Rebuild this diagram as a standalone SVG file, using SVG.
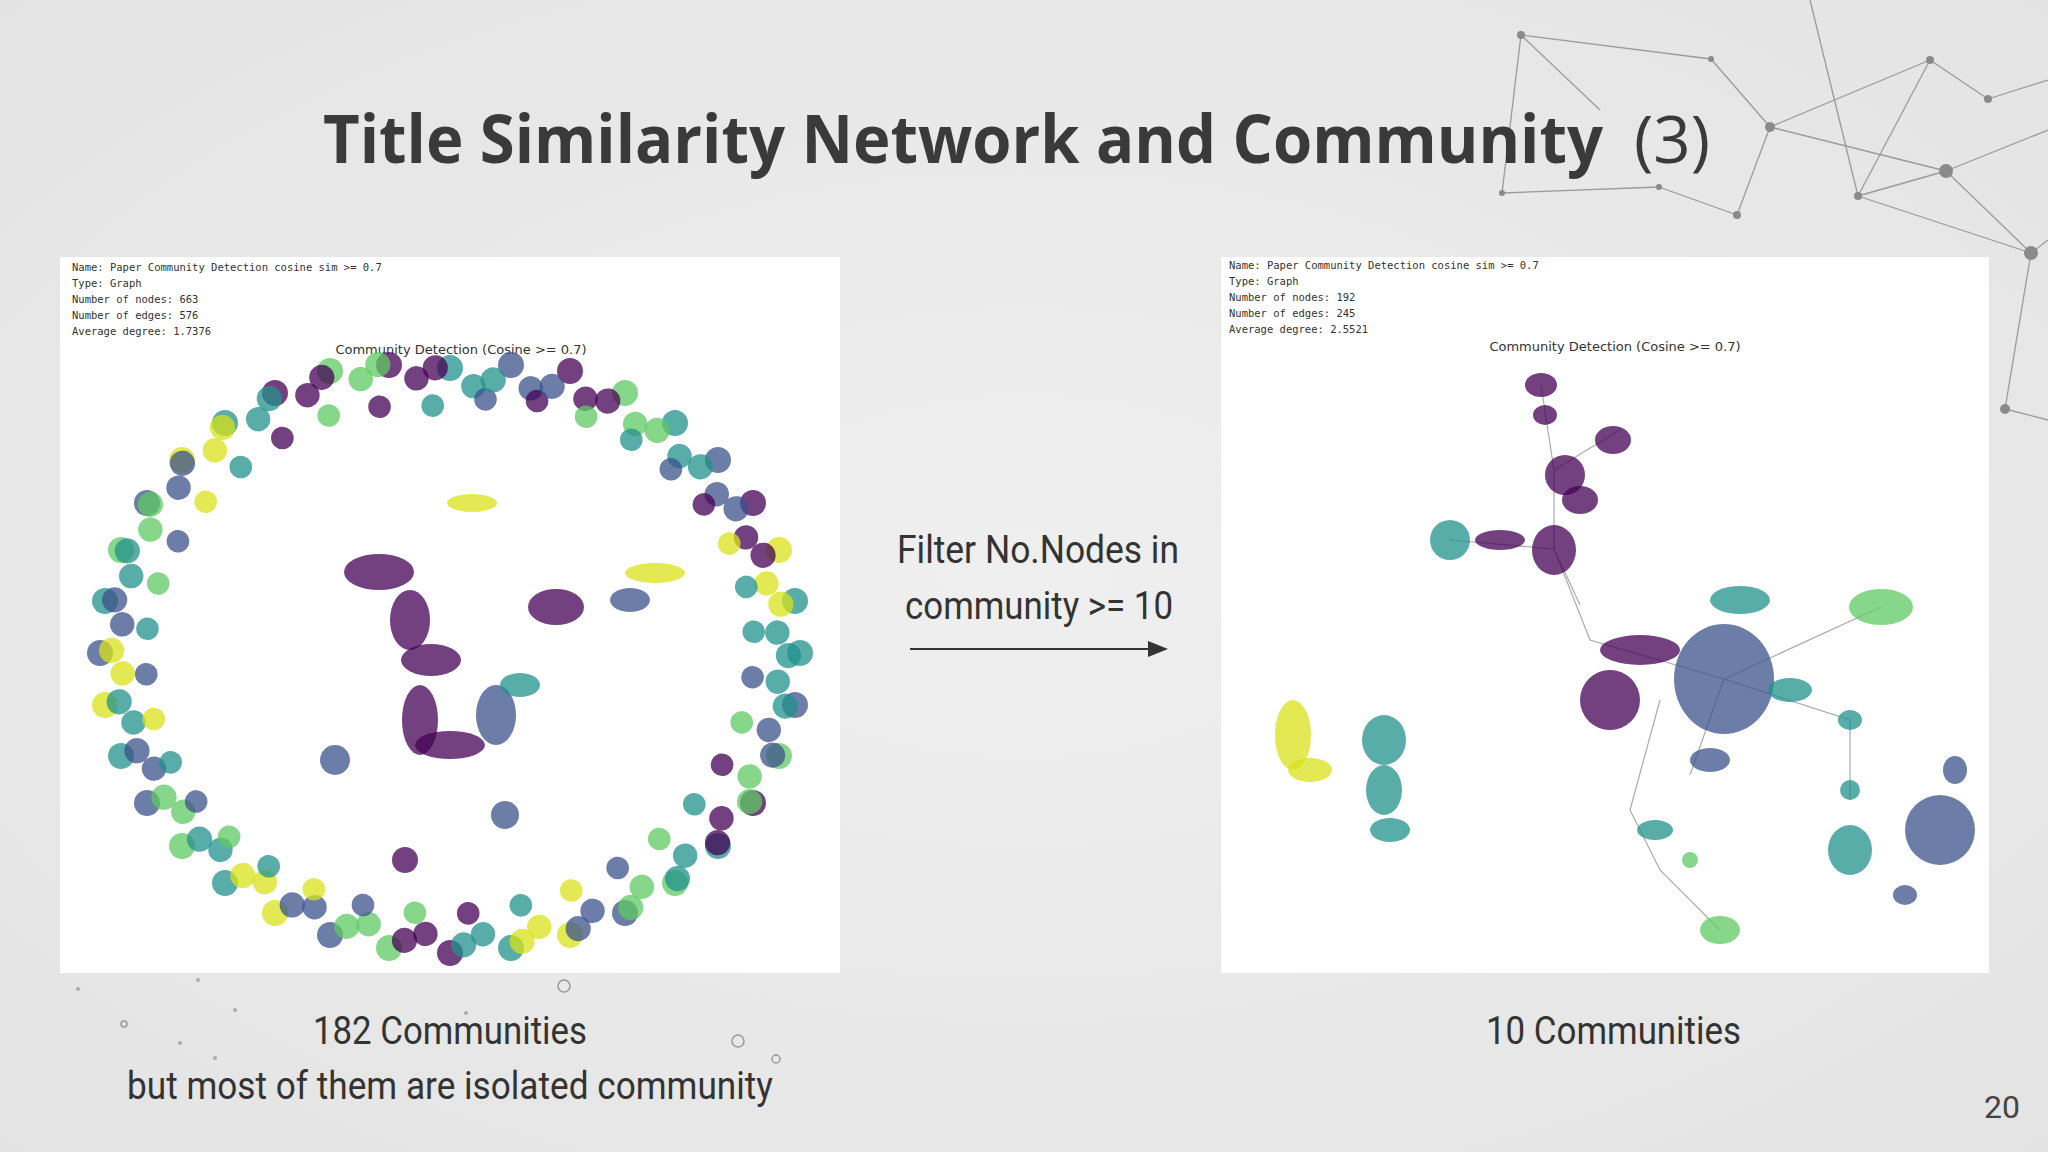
<svg xmlns="http://www.w3.org/2000/svg" xmlns:xlink="http://www.w3.org/1999/xlink" width="2048" height="1152" viewBox="0 0 2048 1152">
<defs>
<radialGradient id="bg" cx="0.5" cy="0.5" r="0.8"><stop offset="0" stop-color="#efefef"/><stop offset="1" stop-color="#e2e2e2"/></radialGradient>
<marker id="ah" markerWidth="10" markerHeight="8" refX="9" refY="4" orient="auto"><path d="M0,0 L10,4 L0,8 z" fill="#333"/></marker>
<style>
.mono{font-family:"DejaVu Sans Mono","Liberation Mono",monospace;font-size:10.5px;fill:#333}
.pt{font-family:"DejaVu Sans","Liberation Sans",sans-serif;font-size:13px;fill:#333}
.cap{font-family:Roboto,"Liberation Sans",sans-serif;font-size:38px;fill:#333}
.deco line{stroke:#9a9a9a;stroke-width:1.3}
.deco circle{fill:#8a8a8a}
.p{fill:#440154;fill-opacity:.75}.b{fill:#3b528b;fill-opacity:.75}.t{fill:#21918c;fill-opacity:.75}.g{fill:#5ec962;fill-opacity:.75}.y{fill:#d8e219;fill-opacity:.75}
.e{stroke:#aaa;stroke-width:1.2;fill:none}
</style>
</defs>
<rect width="2048" height="1152" fill="url(#bg)"/>
<g class="deco">
<line x1="1521" y1="35" x2="1711" y2="59"/><line x1="1711" y1="59" x2="1770" y2="127"/><line x1="1770" y1="127" x2="1930" y2="60"/><line x1="1770" y1="127" x2="1946" y2="171"/><line x1="1930" y1="60" x2="1988" y2="99"/><line x1="1946" y1="171" x2="2031" y2="253"/><line x1="1946" y1="171" x2="1858" y2="196"/><line x1="1858" y1="196" x2="2031" y2="253"/><line x1="2031" y1="253" x2="2005" y2="409"/><line x1="1770" y1="127" x2="1737" y2="215"/><line x1="1502" y1="193" x2="1659" y2="187"/><line x1="1659" y1="187" x2="1737" y2="215"/><line x1="1521" y1="35" x2="1502" y2="193"/><line x1="1858" y1="196" x2="1930" y2="60"/><line x1="1988" y1="99" x2="2048" y2="80"/><line x1="2031" y1="253" x2="2048" y2="240"/><line x1="1858" y1="196" x2="1810" y2="0"/><line x1="1946" y1="171" x2="2048" y2="130"/><line x1="2005" y1="409" x2="2048" y2="420"/><line x1="1521" y1="35" x2="1600" y2="110"/>
<circle cx="1521" cy="35" r="4"/><circle cx="1711" cy="59" r="3"/><circle cx="1770" cy="127" r="5"/><circle cx="1930" cy="60" r="4"/><circle cx="1946" cy="171" r="7"/><circle cx="2031" cy="253" r="7"/><circle cx="2005" cy="409" r="5"/><circle cx="1858" cy="196" r="4"/><circle cx="1737" cy="215" r="4"/><circle cx="1502" cy="193" r="3"/><circle cx="1659" cy="187" r="3"/><circle cx="1988" cy="99" r="4"/>
</g>
<text x="323" y="163" textLength="1280" lengthAdjust="spacingAndGlyphs" font-family="'Open Sans','Liberation Sans',sans-serif" font-size="66" font-weight="bold" fill="#3a3a3a">Title Similarity Network and Community</text>
<text x="1634" y="163" textLength="76" lengthAdjust="spacingAndGlyphs" font-family="'Open Sans','Liberation Sans',sans-serif" font-size="66" fill="#3a3a3a">(3)</text>

<g id="left-plot">
<rect x="60" y="257" width="780" height="716" fill="#fff"/>
<text class="mono" x="72" y="271">Name: Paper Community Detection cosine sim &gt;= 0.7</text>
<text class="mono" x="72" y="287">Type: Graph</text>
<text class="mono" x="72" y="303">Number of nodes: 663</text>
<text class="mono" x="72" y="319">Number of edges: 576</text>
<text class="mono" x="72" y="335">Average degree:   1.7376</text>
<text class="pt" x="461" y="354" text-anchor="middle">Community Detection (Cosine &gt;= 0.7)</text>
<g id="ring">
<circle class="t" cx="800" cy="653" r="13"/><circle class="b" cx="795" cy="705" r="13"/><circle class="g" cx="779" cy="756" r="13"/><circle class="p" cx="753" cy="803" r="13"/><circle class="t" cx="718" cy="846" r="13"/><circle class="g" cx="675" cy="883" r="13"/><circle class="b" cx="625" cy="913" r="13"/><circle class="y" cx="570" cy="935" r="13"/><circle class="t" cx="511" cy="948" r="13"/><circle class="p" cx="450" cy="953" r="13"/><circle class="g" cx="389" cy="948" r="13"/><circle class="b" cx="330" cy="935" r="13"/><circle class="y" cx="275" cy="913" r="13"/><circle class="t" cx="225" cy="883" r="13"/><circle class="g" cx="182" cy="846" r="13"/><circle class="b" cx="147" cy="803" r="13"/><circle class="t" cx="121" cy="756" r="13"/><circle class="y" cx="105" cy="705" r="13"/><circle class="b" cx="100" cy="653" r="13"/><circle class="t" cx="105" cy="601" r="13"/><circle class="g" cx="121" cy="550" r="13"/><circle class="b" cx="147" cy="503" r="13"/><circle class="y" cx="182" cy="460" r="13"/><circle class="t" cx="225" cy="423" r="13"/><circle class="p" cx="275" cy="393" r="13"/><circle class="g" cx="330" cy="371" r="13"/><circle class="p" cx="389" cy="365" r="13"/><circle class="t" cx="450" cy="368" r="13"/><circle class="b" cx="511" cy="365" r="13"/><circle class="p" cx="570" cy="371" r="13"/><circle class="g" cx="625" cy="393" r="13"/><circle class="t" cx="675" cy="423" r="13"/><circle class="b" cx="718" cy="460" r="13"/><circle class="p" cx="753" cy="503" r="13"/><circle class="y" cx="779" cy="550" r="13"/><circle class="t" cx="795" cy="601" r="13"/>
</g>
<use xlink:href="#ring" transform="rotate(5 450 653) translate(450 653) scale(0.94) translate(-450 -653)"/>
<use xlink:href="#ring" transform="rotate(-4 450 653) translate(450 653) scale(0.87) translate(-450 -653)"/>
<use xlink:href="#ring" transform="rotate(9 450 653) translate(450 653) scale(0.97) translate(-450 -653)"/>
<ellipse class="p" cx="379" cy="572" rx="35" ry="18"/><ellipse class="p" cx="410" cy="620" rx="20" ry="30"/><ellipse class="p" cx="431" cy="660" rx="30" ry="16"/><ellipse class="p" cx="420" cy="720" rx="18" ry="35"/><ellipse class="p" cx="450" cy="745" rx="35" ry="14"/><ellipse class="b" cx="496" cy="715" rx="20" ry="30"/><ellipse class="t" cx="520" cy="685" rx="20" ry="12"/><ellipse class="p" cx="556" cy="607" rx="28" ry="18"/><ellipse class="b" cx="630" cy="600" rx="20" ry="12"/><ellipse class="y" cx="655" cy="573" rx="30" ry="10"/><ellipse class="y" cx="472" cy="503" rx="25" ry="9"/><ellipse class="b" cx="335" cy="760" rx="15" ry="15"/><ellipse class="b" cx="505" cy="815" rx="14" ry="14"/><ellipse class="p" cx="405" cy="860" rx="13" ry="13"/>
</g>

<g id="right-plot">
<rect x="1221" y="257" width="768" height="716" fill="#fff"/>
<text class="mono" x="1229" y="269">Name: Paper Community Detection cosine sim &gt;= 0.7</text>
<text class="mono" x="1229" y="285">Type: Graph</text>
<text class="mono" x="1229" y="301">Number of nodes: 192</text>
<text class="mono" x="1229" y="317">Number of edges: 245</text>
<text class="mono" x="1229" y="333">Average degree:   2.5521</text>
<text class="pt" x="1615" y="351" text-anchor="middle">Community Detection (Cosine &gt;= 0.7)</text>
<path class="e" d="M1541 385 L1554 470 L1554 549 L1590 640 L1724 679 M1620 430 L1554 470 M1450 540 L1554 549 M1554 549 L1580 605 M1724 679 L1881 607 M1724 679 L1850 720 L1850 800 M1660 700 L1630 810 L1660 870 L1720 930 M1724 679 L1690 775"/>
<ellipse class="p" cx="1541" cy="385" rx="16" ry="12"/><ellipse class="p" cx="1545" cy="415" rx="12" ry="10"/><ellipse class="p" cx="1613" cy="440" rx="18" ry="14"/><ellipse class="p" cx="1565" cy="475" rx="20" ry="20"/><ellipse class="p" cx="1580" cy="500" rx="18" ry="14"/><ellipse class="p" cx="1554" cy="550" rx="22" ry="25"/><ellipse class="p" cx="1500" cy="540" rx="25" ry="10"/><ellipse class="t" cx="1450" cy="540" rx="20" ry="20"/><ellipse class="p" cx="1640" cy="650" rx="40" ry="15"/><ellipse class="p" cx="1610" cy="700" rx="30" ry="30"/><ellipse class="b" cx="1724" cy="679" rx="50" ry="55"/><ellipse class="t" cx="1740" cy="600" rx="30" ry="14"/><ellipse class="t" cx="1790" cy="690" rx="22" ry="12"/><ellipse class="g" cx="1881" cy="607" rx="32" ry="18"/><ellipse class="t" cx="1850" cy="720" rx="12" ry="10"/><ellipse class="t" cx="1850" cy="790" rx="10" ry="10"/><ellipse class="b" cx="1710" cy="760" rx="20" ry="12"/><ellipse class="t" cx="1655" cy="830" rx="18" ry="10"/><ellipse class="g" cx="1720" cy="930" rx="20" ry="14"/><ellipse class="g" cx="1690" cy="860" rx="8" ry="8"/>
<ellipse class="y" cx="1293" cy="735" rx="18" ry="35"/><ellipse class="y" cx="1310" cy="770" rx="22" ry="12"/>
<ellipse class="t" cx="1384" cy="740" rx="22" ry="25"/><ellipse class="t" cx="1384" cy="790" rx="18" ry="25"/><ellipse class="t" cx="1390" cy="830" rx="20" ry="12"/>
<ellipse class="b" cx="1940" cy="830" rx="35" ry="35"/><ellipse class="t" cx="1850" cy="850" rx="22" ry="25"/><ellipse class="b" cx="1955" cy="770" rx="12" ry="14"/><ellipse class="b" cx="1905" cy="895" rx="12" ry="10"/>
</g>

<g id="arrow">
<text class="cap" x="897" y="563" textLength="282" lengthAdjust="spacingAndGlyphs">Filter No.Nodes in</text>
<text class="cap" x="905" y="619" textLength="268" lengthAdjust="spacingAndGlyphs">community &gt;= 10</text>
<g id="connectors"><line x1="910" y1="649" x2="1166" y2="649" stroke="#333" stroke-width="2" marker-end="url(#ah)"/></g>
</g>
<text class="cap" x="313" y="1044" textLength="274" lengthAdjust="spacingAndGlyphs">182 Communities</text>
<text class="cap" x="127" y="1099" textLength="646" lengthAdjust="spacingAndGlyphs">but most of them are isolated community</text>
<text class="cap" x="1486" y="1044" textLength="255" lengthAdjust="spacingAndGlyphs">10 Communities</text>
<text x="2020" y="1118" text-anchor="end" font-family="Roboto,'Liberation Sans',sans-serif" font-size="32" fill="#444">20</text>
<g fill="none" stroke="#999" stroke-width="1.5"><circle cx="564" cy="986" r="6"/><circle cx="738" cy="1041" r="6"/><circle cx="776" cy="1059" r="4"/><circle cx="124" cy="1024" r="3"/></g>
<g fill="#aaa"><circle cx="78" cy="989" r="2"/><circle cx="198" cy="980" r="2"/><circle cx="235" cy="1010" r="2"/><circle cx="180" cy="1043" r="2"/><circle cx="215" cy="1058" r="2"/><circle cx="466" cy="1013" r="2"/></g>
</svg>
